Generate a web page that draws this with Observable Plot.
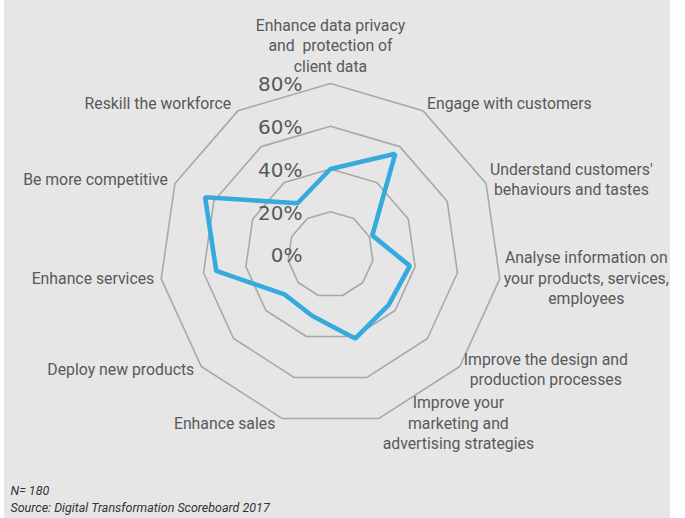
<!DOCTYPE html>
<html><head><meta charset="utf-8">
<script src="https://cdn.jsdelivr.net/npm/d3@7"></script>
<script src="https://cdn.jsdelivr.net/npm/@observablehq/plot@0.6"></script>
<style>
html,body{margin:0;padding:0;background:#fff;}
#chart svg{display:block;}
</style></head><body><div id="chart"></div>
<script>
const categories = [
  "Enhance data privacy\nand\u00a0 protection of\nclient data",
  "Engage with customers",
  "Understand customers'\nbehaviours and tastes",
  "Analyse information on\nyour products, services,\nemployees",
  "Improve the design and\nproduction processes",
  "Improve your\nmarketing and\nadvertising strategies",
  "Enhance sales",
  "Deploy new products",
  "Enhance services",
  "Be more competitive",
  "Reskill the workforce"
];
const values = [40, 56, 21.5, 37.5, 36, 41, 30, 28.5, 54, 64.5, 28.5];
const ringLevels = [20, 40, 60, 80];
const tickValues = [0, 20, 40, 60, 80];
const tickLabels = ["0%", "20%", "40%", "60%", "80%"];
const footnotes = ["N= 180", "Source: Digital Transformation Scoreboard 2017"];

const W = 685, H = 518, CX = 330, CY = 254, R80 = 171;
const k = R80 / 80;               // pixels per percentage point
const n = categories.length;
const ang = i => 2 * Math.PI * i / n;
const px = (i, r) => r * Math.sin(ang(i));
const py = (i, r) => r * Math.cos(ang(i));

const labelSize = 15.8;
const labelFont = labelSize + "px Roboto";
const lineH = 20.5;
const ctx = document.createElement("canvas").getContext("2d");
ctx.font = labelFont;

// series points
const series = values.map((v, i) => ({x: px(i, v), y: py(i, v)}));
// grid rings
const rings = [];
for (const lv of ringLevels) for (let i = 0; i < n; i++) rings.push({lv, x: px(i, lv), y: py(i, lv)});
// category labels placed next to the outer vertex
const labels = categories.map((c, i) => {
  const lines = c.split("\n");
  const w = Math.max(...lines.map(l => ctx.measureText(l).width));
  const h = lines.length * lineH;
  const s = Math.sin(ang(i)), co = Math.cos(ang(i));
  let x = px(i, 80), y = py(i, 80);
  if (Math.abs(s) < 0.1) {
    y += (8 + h / 2) / k * Math.sign(co);
  } else {
    const pad = s > 0 ? 4 : 7;
    x += Math.sign(s) * (pad + w / 2) / k;
    y += (6.5 * co + 2.5) / k;
  }
  return {text: c, x, y};
});

const chart = Plot.plot({
  width: W, height: H,
  margin: 0,
  x: {domain: [-CX / k, (W - CX) / k], axis: null},
  y: {domain: [-(H - CY) / k, CY / k], axis: null},
  style: {background: "linear-gradient(to right, #fff 0 4px, #e6e6e6 4px 670px, #fff 670px)", fontFamily: "Roboto"},
  marks: [
    Plot.line(rings, {x: "x", y: "y", z: "lv", curve: "linear-closed", stroke: "#a8a8a8", strokeWidth: 1.6}),
    Plot.line(series, {x: "x", y: "y", curve: "linear-closed", stroke: "#35aadf", strokeWidth: 4.6, strokeLinejoin: "miter"}),
    Plot.text(tickValues, {x: 0, y: d => d, text: (d, i) => tickLabels[i], dx: -28, dy: 1.5, textAnchor: "end", lineAnchor: "middle", fontSize: 20, fill: "#595959", fontFamily: "DejaVu Sans"}),
    Plot.text(labels, {x: "x", y: "y", text: "text", textAnchor: "middle", lineAnchor: "middle", fontSize: labelSize, lineHeight: lineH / labelSize, fill: "#595959"}),
    Plot.text([footnotes[0]], {frameAnchor: "bottom-left", dx: 10, dy: -27.5, textAnchor: "start", lineAnchor: "middle", fontSize: 12.5, fontStyle: "italic", fill: "#333"}),
    Plot.text([footnotes[1]], {frameAnchor: "bottom-left", dx: 10, dy: -11, textAnchor: "start", lineAnchor: "middle", fontSize: 12.5, fontStyle: "italic", fill: "#333"})
  ]
});
document.getElementById("chart").append(chart);
</script></body></html>
